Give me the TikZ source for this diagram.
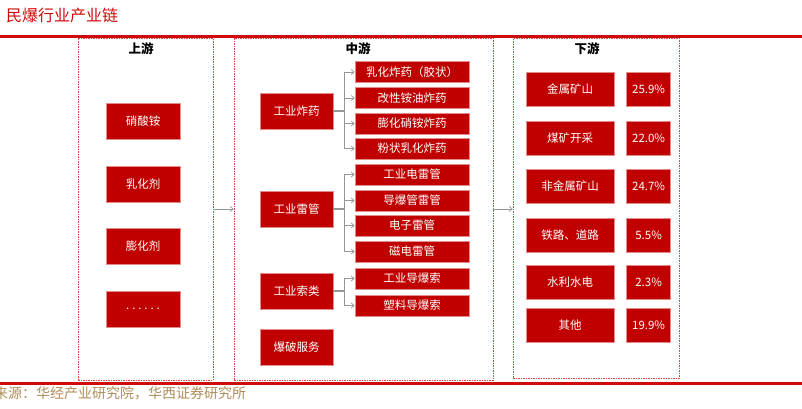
\documentclass[tikz,border=0pt]{standalone}
\usepackage{fontspec}
\setmainfont{Noto Sans CJK SC}
\usepackage{xcolor}
\definecolor{boxred}{RGB}{192, 0, 0}
\definecolor{linered}{RGB}{208, 10, 10}
\definecolor{srcgold}{RGB}{175, 140, 90}
\definecolor{flowgray}{RGB}{150, 150, 150}
\usepackage{tikz}
\usetikzlibrary{arrows.meta, positioning, calc}
\newcommand{\sixdots}{{\addfontfeature{LetterSpace=25}......}}

\begin{document}
\begin{tikzpicture}[x=1pt, y=-1pt, >={Straight Barb[length=3pt, width=5pt]},
    redbox/.style={fill=boxred, draw=boxred!45!white, line width=0.6pt, text=white, inner sep=0pt, font=\fontsize{11.5}{13}\selectfont},
    upbox/.style={redbox, minimum width=74pt, minimum height=36pt},
    srcbox/.style={redbox, minimum width=73pt, minimum height=36pt},
    prodbox/.style={redbox, minimum width=114pt, minimum height=21pt},
    usebox/.style={redbox, minimum width=88pt, minimum height=34pt},
    pctbox/.style={redbox, minimum width=44pt, minimum height=34pt},
    stageframe/.style={draw=linered!75, dash pattern=on 1.5pt off 1pt, line width=0.5pt, inner sep=0pt},
    stage/.style={font=\bfseries\fontsize{12.5}{14}\selectfont},
    flow/.style={draw=flowgray, line width=0.7pt},
    trunk/.style={draw=flowgray, line width=1.8pt}]
    \useasboundingbox (0,0) rectangle (802,408);

    % title and rules
    \node[anchor=west, inner sep=0pt, text=linered, font=\fontsize{16}{19}\selectfont] (title) at (6,15) {民爆行业产业链};
    \draw[linered, line width=2.2pt] (0,36.5) -- (802,36.5);
    \draw[linered, line width=2.2pt] (0,383.5) -- (802,383.5);
    \node[anchor=west, inner sep=0pt, text=srcgold, font=\fontsize{14}{16}\selectfont] (source) at (-6,393) {来源：华经产业研究院，华西证券研究所};

    % stage frames
    \node[stageframe, minimum width=135pt, minimum height=342pt] (upframe) at (145.5,209) {};
    \node[stageframe, minimum width=259pt, minimum height=342pt] (midframe) at (363.5,209) {};
    \node[stageframe, minimum width=166pt, minimum height=340pt] (downframe) at (596,208) {};
    \node[stage] (uphead) at (141,49) {上游};
    \node[stage] (midhead) at (358,49) {中游};
    \node[stage] (downhead) at (587,49) {下游};

    % upstream
    \foreach \name/\txt [count=\i] in {nitrate/硝酸铵, emulsifier/乳化剂, puffing/膨化剂, others/{\sixdots}}
        \node[upbox] (\name) at (143, 59+62.5*\i) {\txt};

    % midstream
    \node[srcbox] (explosive) at (296.5,111) {工业炸药};
    \node[srcbox] (detonator) at (296.5,209) {工业雷管};
    \node[srcbox] (cord) at (296.5,291) {工业索类};
    \node[srcbox] (blasting) at (296.5,347) {爆破服务};
    \foreach \name/\txt/\y in {emulgel/乳化炸药（胶状）/72, anfo/改性铵油炸药/98, puffed/膨化硝铵炸药/123.5,
        powder/粉状乳化炸药/148.5, electric/工业电雷管/174.5, shocktube/导爆管雷管/200.5,
        electronic/电子雷管/225.5, magneto/磁电雷管/251.5, detcord/工业导爆索/278.5, plastic/塑料导爆索/305.5}
        \node[prodbox] (\name) at (412,\y) {\txt};

    \foreach \parent/\first/\last/\kids in {explosive/emulgel/powder/{emulgel,anfo,puffed,powder},
        detonator/electric/magneto/{electric,shocktube,electronic,magneto}, cord/detcord/plastic/{detcord,plastic}} {
        \draw[trunk] (\parent.east) -- ++(11,0) coordinate (\parent-j);
        \draw[flow] (\parent-j |- \first.west) -- (\parent-j |- \last.west);
        \foreach \k in \kids
            \draw[flow, ->] (\parent-j |- \k.west) -- (\k.west);
    }

    % downstream
    \foreach \name/\txt/\pct/\y in {metal/金属矿山/25.9\%/89, coal/煤矿开采/22.0\%/138, nonmetal/非金属矿山/24.7\%/186.5,
        rail/铁路、道路/5.5\%/235, hydro/水利水电/2.3\%/282, other/其他/19.9\%/325} {
        \node[usebox] (\name) at (570,\y) {\txt};
        \node[pctbox, right=12pt of \name] (\name-pct) {\pct};
    }

    % stage links
    \draw[flow, ->] (upframe.east) -- (midframe.west);
    \draw[flow, ->] (midframe.east) -- (midframe.east -| downframe.west);
\end{tikzpicture}
\end{document}
